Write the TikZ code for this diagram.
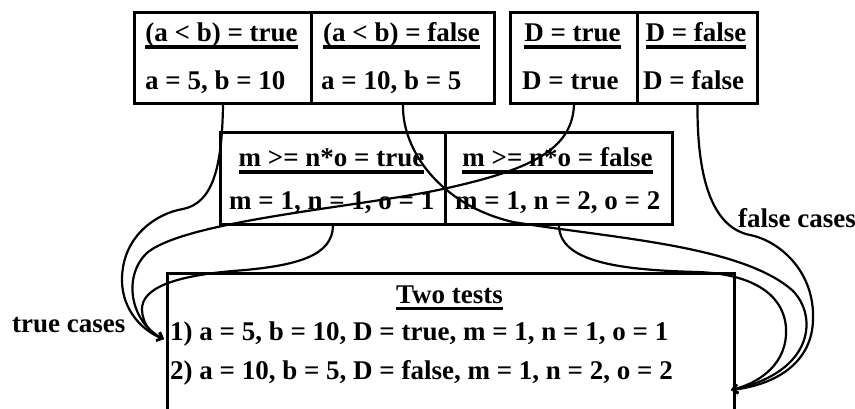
\documentclass[tikz,border=0pt]{standalone}
\usepackage{fontspec}
\setmainfont{Liberation Serif}
\usetikzlibrary{arrows.meta}
\newsavebox\ulbx
\newcommand\ulx[1]{\sbox\ulbx{#1}\rlap{\rule[-7pt]{\wd\ulbx}{3.5pt}}\usebox\ulbx}
\begin{document}
\begin{tikzpicture}[x=1pt,y=-1pt,
  cell/.style={draw, line width=3pt, rectangle, inner sep=0pt, anchor=north west},
  txt/.style={font=\fontsize{27}{32}\selectfont\bfseries, inner sep=0pt},
  hd/.style={txt, anchor=base},
  rw/.style={txt, anchor=base west},
  conn/.style={line width=2.2pt, -{Straight Barb[length=5pt,width=9pt]}}]
\useasboundingbox (0,0) rectangle (855,409);
% top boxes
\node[cell, minimum width=177, minimum height=91] (c1) at (133,11) {};
\node[cell, minimum width=183, minimum height=91] (c2) at (310,11) {};
\node[cell, minimum width=127, minimum height=91] (c3) at (509,11) {};
\node[cell, minimum width=120, minimum height=91] (c4) at (636,11) {};
% middle box
\node[cell, minimum width=225, minimum height=92] (m1) at (219,131) {};
\node[cell, minimum width=227, minimum height=92] (m2) at (444,131) {};
% bottom box (open at the bottom)
\node[cell, minimum width=567, minimum height=160] (tb) at (166,272) {};
% texts
\node[hd] (h1) at (221.5,42) {\ulx{(a < b) = true}};
\node[hd] (h2) at (401.5,42) {\ulx{(a < b) = false}};
\node[hd] (h3) at (572.5,42) {\ulx{D = true}};
\node[hd] (h4) at (696,42) {\ulx{D = false}};
\node[rw] (r1) at (145,90) {a = 5, b = 10};
\node[rw] (r2) at (321,90) {a = 10, b = 5};
\node[rw] (r3) at (522,90) {D = true};
\node[rw] (r4) at (643,90) {D = false};
\node[hd] (h5) at (331.5,167) {\ulx{m >= n*o = true}};
\node[hd] (h6) at (557.5,167) {\ulx{m >= n*o = false}};
\node[rw] (r5) at (229,210) {m = 1, n = 1, o = 1};
\node[rw] (r6) at (455,210) {m = 1, n = 2, o = 2};
\node[hd] (h7) at (449.5,303) {\ulx{Two tests}};
\node[rw] (t1) at (170,340) {1) a = 5, b = 10, D = true, m = 1, n = 1, o = 1};
\node[rw] (t2) at (170,379) {2) a = 10, b = 5, D = false, m = 1, n = 2, o = 2};
\node[rw] (lt) at (12,332) {true cases};
\node[rw] (lf) at (738,228) {false cases};
% arrow targets
\coordinate (tin) at (164,339);
\coordinate (fin) at (731,390);
% true connectors
\draw[conn] (c1.south) .. controls (222,170) and (212,203) .. (183,209)
  .. controls (158,213) and (122,235) .. (122,280)
  .. controls (122,312) and (145,332) .. (tin);
\draw[conn] (c3.south) .. controls (572,150) and (530,170) .. (443,189)
  .. controls (360,207) and (190,220) .. (148,252)
  .. controls (122,275) and (130,322) .. (tin);
\draw[conn] (m1.south) .. controls (332,255) and (300,266) .. (233,271)
  .. controls (175,276) and (141,288) .. (142,310)
  .. controls (143,326) and (152,334) .. (tin);
% false connectors
\draw[conn] (c2.south) .. controls (402,150) and (440,205) .. (513,222)
  .. controls (610,238) and (740,245) .. (792,290)
  .. controls (818,315) and (815,372) .. (fin);
\draw[conn] (m2.south) .. controls (560,262) and (620,270) .. (697,272)
  .. controls (760,274) and (788,300) .. (786,335)
  .. controls (784,368) and (755,384) .. (fin);
\draw[conn] (c4.south) .. controls (697,185) and (715,228) .. (750,235)
  .. controls (780,241) and (815,272) .. (813,320)
  .. controls (812,360) and (780,384) .. (fin);
\end{tikzpicture}
\end{document}
